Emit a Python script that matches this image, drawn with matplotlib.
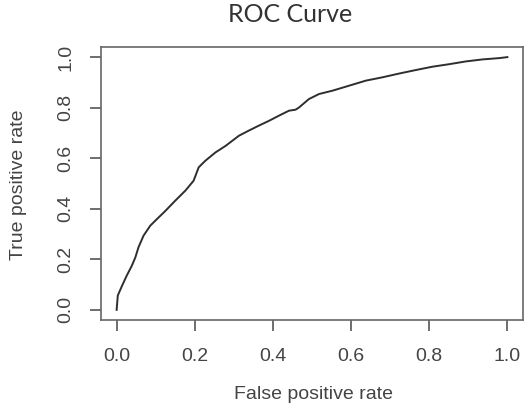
import matplotlib
matplotlib.use("Agg")
import matplotlib.pyplot as plt

fpr = [0.0, 0.003, 0.014, 0.026, 0.039, 0.048, 0.056, 0.069, 0.086, 0.099,
       0.125, 0.150, 0.176, 0.197, 0.210, 0.227, 0.253, 0.279, 0.313, 0.338,
       0.364, 0.390, 0.415, 0.441, 0.458, 0.467, 0.492, 0.518, 0.552, 0.595,
       0.638, 0.680, 0.723, 0.766, 0.808, 0.851, 0.894, 0.937, 0.979, 1.0]
tpr = [0.0, 0.057, 0.096, 0.136, 0.175, 0.208, 0.248, 0.294, 0.333, 0.353,
       0.392, 0.432, 0.472, 0.511, 0.564, 0.590, 0.623, 0.649, 0.689, 0.709,
       0.729, 0.748, 0.768, 0.788, 0.792, 0.801, 0.834, 0.854, 0.867, 0.887,
       0.907, 0.920, 0.935, 0.949, 0.962, 0.972, 0.983, 0.991, 0.996, 1.0]
xticks = [0.0, 0.2, 0.4, 0.6, 0.8, 1.0]
yticks = [0.0, 0.2, 0.4, 0.6, 0.8, 1.0]

fig = plt.figure(figsize=(5.27, 4.15), dpi=100)
ax = fig.add_axes([101/527, 1-320/415, 422/527, 273/415])
ax.plot(fpr, tpr, color="#2e2e2e", lw=1.4)
ax.set_xlim(-0.04, 1.04)
ax.set_ylim(-0.04, 1.04)

for s in ax.spines.values():
    s.set_color("#666666")
    s.set_linewidth(1.2)

ax.set_xticks(xticks)
ax.set_yticks(yticks)
ax.set_xticklabels([f"{v:.1f}" for v in xticks], fontfamily="Liberation Sans", fontsize=14, color="#444444")
ax.set_yticklabels([f"{v:.1f}" for v in yticks], fontfamily="Liberation Sans", fontsize=14, color="#444444",
                   rotation=90, va="center")
ax.tick_params(axis="both", colors="#555555", length=8, width=1.2, direction="out")
ax.tick_params(axis="x", pad=12, labelcolor="#444444")
ax.tick_params(axis="y", pad=11, labelcolor="#444444")

fig.text(313/527, 1-394/415, "False positive rate", ha="center", va="center",
         fontfamily="Liberation Sans", fontsize=14, color="#444444")
fig.text(19/527, 1-185/415, "True positive rate", ha="center", va="center", rotation=90,
         fontfamily="Liberation Sans", fontsize=14, color="#444444")
fig.text(290/527, 1-14/415, "ROC Curve", ha="center", va="center",
         fontfamily="Lato", fontsize=18, color="#333333")

fig.savefig("out.png", dpi=100)
